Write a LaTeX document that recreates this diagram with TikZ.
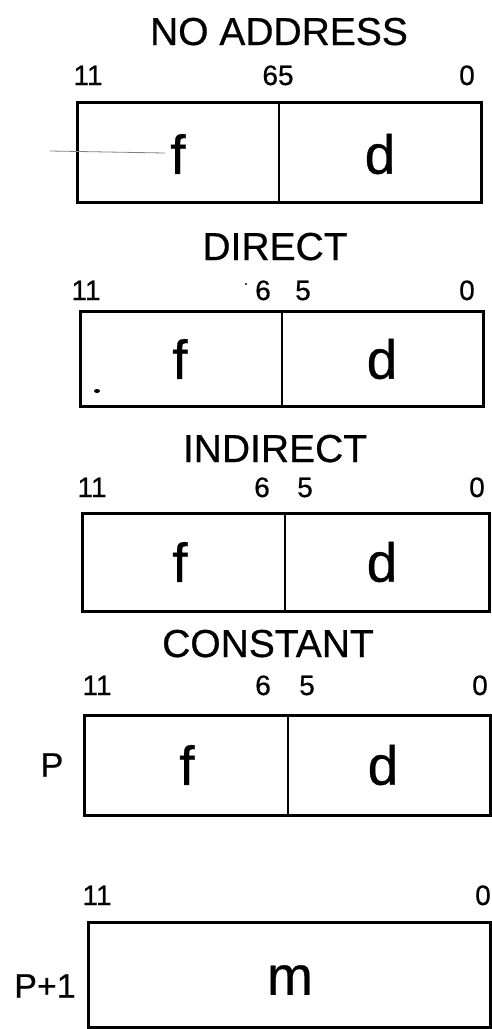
\documentclass[tikz,border=0pt]{standalone}
\usepackage{fontspec}
\setmainfont[FakeBold=0.6]{Liberation Sans}
\begin{document}
\begin{tikzpicture}[x=1pt,y=-1pt,
  title/.style={inner sep=0pt, font=\fontsize{39}{39}\selectfont, anchor=base},
  bitnum/.style={inner sep=0pt, font=\fontsize{28}{28}\selectfont, anchor=base},
  field/.style={inner sep=0pt, font=\fontsize{55}{55}\selectfont},
  side/.style={inner sep=0pt, font=\fontsize{34}{34}\selectfont},
  frame/.style={draw, line width=3pt},
  divider/.style={draw, line width=2pt}]
\useasboundingbox (0,0) rectangle (492,1029);

% ---------- NO ADDRESS ----------
\node[title] (t1) at (279,45) {NO ADDRESS};
\node[bitnum] (a11) at (88,85) {11};
\node[bitnum] (a65) at (278,85) {65};
\node[bitnum] (a0) at (467,85) {0};
\draw[frame] (77,102) rectangle (481,202);
\draw[divider] (279,102) -- (279,202);
\draw[gray, line width=0.8pt] (50,151) -- (165,153);
\node[field] (af) at (178,154) {f};
\node[field] (ad) at (380,154) {d};

% ---------- DIRECT ----------
\node[title] (t2) at (275,260) {DIRECT};
\node[bitnum] (b11) at (86,300) {11};
\node[bitnum] (b6) at (263,300) {6};
\node[bitnum] (b5) at (303,300) {5};
\node[bitnum] (b0) at (467,300) {0};
\fill (246,284) circle (1.2pt);
\draw[frame] (80,311) rectangle (483,406);
\draw[divider] (282,311) -- (282,406);
\fill (97,391) ellipse (3pt and 2pt);
\node[field] (bf) at (180,359) {f};
\node[field] (bd) at (382,359) {d};

% ---------- INDIRECT ----------
\node[title] (t3) at (275,462) {INDIRECT};
\node[bitnum] (c11) at (92,497) {11};
\node[bitnum] (c6) at (262,497) {6};
\node[bitnum] (c5) at (305,497) {5};
\node[bitnum] (c0) at (477,497) {0};
\draw[frame] (82,513) rectangle (489,611);
\draw[divider] (285,513) -- (285,611);
\node[field] (cf) at (180,562) {f};
\node[field] (cd) at (382,562) {d};

% ---------- CONSTANT ----------
\node[title] (t4) at (268,657) {CONSTANT};
\node[bitnum] (d11) at (97,695) {11};
\node[bitnum] (d6) at (263,695) {6};
\node[bitnum] (d5) at (307,695) {5};
\node[bitnum] (d0) at (480,695) {0};
\draw[frame] (84,715) rectangle (490,815);
\draw[divider] (288,715) -- (288,815);
\node[side] (dp) at (52,765) {P};
\node[field] (df) at (187,765) {f};
\node[field] (dd) at (383,765) {d};

% ---------- P+1 ----------
\node[bitnum] (e11) at (97,905) {11};
\node[bitnum] (e0) at (483,905) {0};
\draw[frame] (88,922) rectangle (490,1027);
\node[side] (ep) at (45,986) {P+1};
\node[field] (em) at (290,980) {m};
\end{tikzpicture}
\end{document}
